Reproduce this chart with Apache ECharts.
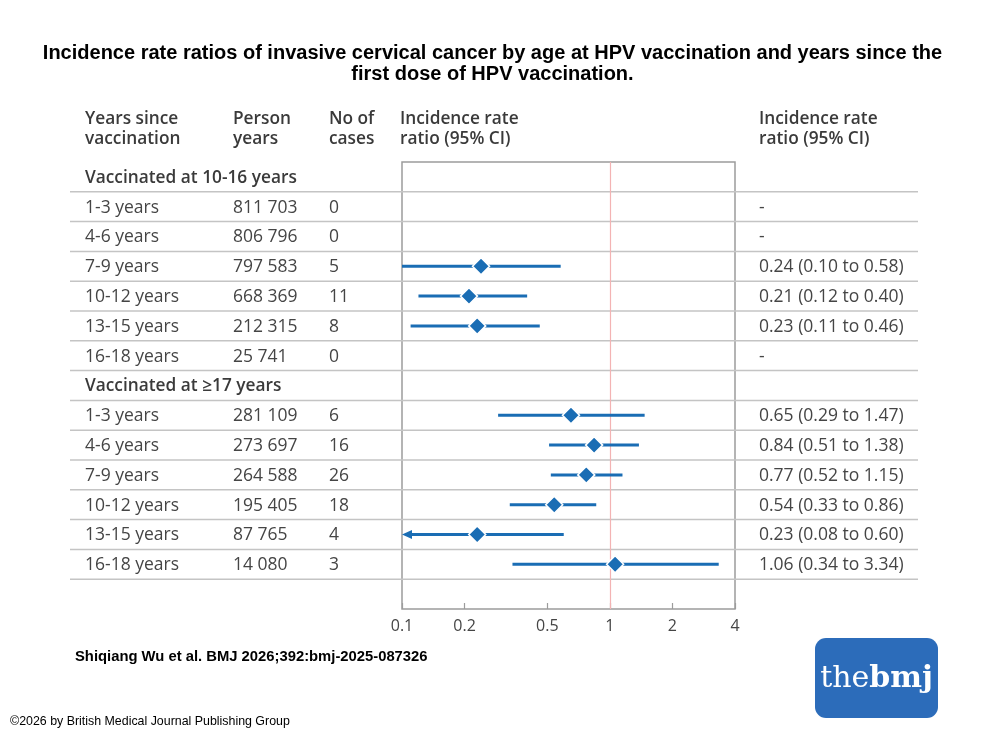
<!DOCTYPE html>
<html><head><meta charset="utf-8">
<script src="https://cdn.jsdelivr.net/npm/echarts@6/dist/echarts.min.js"></script>
<style>html,body{margin:0;padding:0;background:#fff}#c{width:985px;height:740px}</style>
</head><body><div id="c"></div>
<script>
// ---- data ----
const groupLabels = ['Vaccinated at 10-16 years', 'Vaccinated at \u226517 years'];
const periods = ['1-3 years', '4-6 years', '7-9 years', '10-12 years', '13-15 years', '16-18 years'];
const personYears1 = ['811 703', '806 796', '797 583', '668 369', '212 315', '25 741'];
const cases1 = [0, 0, 5, 11, 8, 0];
const irr1 = [null, null, 0.24, 0.21, 0.23, null];
const lo1 = [null, null, 0.10, 0.12, 0.11, null];
const hi1 = [null, null, 0.58, 0.40, 0.46, null];
const personYears2 = ['281 109', '273 697', '264 588', '195 405', '87 765', '14 080'];
const cases2 = [6, 16, 26, 18, 4, 3];
const irr2 = [0.65, 0.84, 0.77, 0.54, 0.23, 1.06];
const lo2 = [0.29, 0.51, 0.52, 0.33, 0.08, 0.34];
const hi2 = [1.47, 1.38, 1.15, 0.86, 0.60, 3.34];
const xTicks = [0.1, 0.2, 0.5, 1, 2, 4];
const xMin = 0.1, xMax = 4;

// ---- build rows ----
const rows = [];
function addGroup(g, py, cs, irr, lo, hi) {
  rows.push({type: 'header', label: groupLabels[g]});
  for (let i = 0; i < periods.length; i++) {
    rows.push({type: 'row', label: periods[i], py: py[i], cases: cs[i], irr: irr[i], lo: lo[i], hi: hi[i]});
  }
}
addGroup(0, personYears1, cases1, irr1, lo1, hi1);
addGroup(1, personYears2, cases2, irr2, lo2, hi2);
rows.push({type: 'blank', label: ''});
const cats = rows.map((r, i) => 'r' + i);

const FONT = '"Open Sans", "Noto Sans", sans-serif';
const ARIAL = '"Liberation Sans", Arial, sans-serif';
const BLUE = '#1a6db4';
const TXT = '#454545';
const HDR = '#3a3a3a';

const tableData = rows.map((r, i) => [1, i]);
const forestData = [];
const pointData = [];
rows.forEach((r, i) => {
  if (r.type === 'row' && r.irr != null) {
    forestData.push([r.irr, i, r.lo, r.hi]);
    pointData.push([r.irr, i]);
  }
});
function fmt(v) { return v.toFixed(2); }

const chart = echarts.init(document.getElementById('c'), null, {renderer: 'canvas'});

const hdrStyle = {fontFamily: FONT, fontSize: 17.3, fontWeight: 600, fill: HDR, lineHeight: 20};
function hdr(x, text) {
  return {type: 'text', left: x, top: 109, style: Object.assign({text: text}, hdrStyle)};
}

chart.setOption({
  animation: false,
  backgroundColor: '#fff',
  grid: {left: 402, right: 250, top: 162, bottom: 131, show: true, borderColor: '#9c9c9c', borderWidth: 1.5, containLabel: false},
  xAxis: {
    type: 'log', logBase: 10, min: xMin, max: xMax,
    axisLine: {show: false},
    splitLine: {show: false},
    axisTick: {show: true, inside: true, length: 6, lineStyle: {color: '#9c9c9c', width: 1.2}, customValues: xTicks},
    axisLabel: {show: true, margin: 9, fontFamily: FONT, fontSize: 16, color: TXT, customValues: xTicks,
      formatter: v => String(+(+v).toPrecision(3))}
  },
  yAxis: {type: 'category', data: cats, inverse: true, show: false, boundaryGap: true},
  graphic: [
    {type: 'text', x: 492.5, y: 43, style: {
      text: 'Incidence rate ratios of invasive cervical cancer by age at HPV vaccination and years since the\nfirst dose of HPV vaccination.',
      align: 'center', verticalAlign: 'top', fontFamily: ARIAL, fontSize: 20, fontWeight: 'bold', fill: '#000', lineHeight: 21}},
    hdr(85, 'Years since\nvaccination'),
    hdr(233, 'Person\nyears'),
    hdr(329, 'No of\ncases'),
    hdr(400, 'Incidence rate\nratio (95% CI)'),
    hdr(759, 'Incidence rate\nratio (95% CI)'),
    {type: 'text', left: 75, top: 649, style: {text: 'Shiqiang Wu et al. BMJ 2026;392:bmj-2025-087326', fontFamily: ARIAL, fontWeight: 'bold', fontSize: 14.8, fill: '#000'}},
    {type: 'text', left: 10, top: 716, style: {text: '\u00a92026 by British Medical Journal Publishing Group', fontFamily: ARIAL, fontSize: 12.4, fill: '#000'}},
    {type: 'group', left: 815, top: 638, children: [
      {type: 'rect', shape: {x: 0, y: 0, width: 123, height: 80, r: 11}, style: {fill: '#2c6cba'}},
      {type: 'text', x: 61.5, y: 41, style: {
        text: '{a|the}{b|bmj}', align: 'center', verticalAlign: 'middle',
        rich: {
          a: {fontFamily: '"DejaVu Serif", "Liberation Serif", serif', fontSize: 30, fontWeight: 'normal', fill: '#fff', color: '#fff'},
          b: {fontFamily: '"DejaVu Serif", "Liberation Serif", serif', fontSize: 30, fontWeight: 'bold', fill: '#fff', color: '#fff'}
        }
      }}
    ]}
  ],
  series: [
    {
      type: 'custom', name: 'table', z: 1, silent: true, clip: false,
      data: tableData,
      encode: {x: 0, y: 1},
      renderItem: function (params, api) {
        const i = api.value(1);
        const r = rows[i];
        const pt = api.coord([1, i]);
        const h = api.size([0, 1])[1];
        const y = pt[1] + 1;
        const children = [];
        if (i < rows.length - 1) {
          children.push({type: 'line', shape: {x1: 70, y1: pt[1] + h / 2, x2: 918, y2: pt[1] + h / 2},
            style: {stroke: '#c4c4c4', lineWidth: 1.5}});
        }
        const base = {fontFamily: FONT, fontSize: 17.5, fill: TXT, verticalAlign: 'middle', align: 'left'};
        if (r.type === 'header') {
          children.push({type: 'text', style: Object.assign({}, base, {text: r.label, x: 85, y: y, fontSize: 17.3, fontWeight: 600, fill: HDR})});
        } else if (r.type === 'row') {
          children.push({type: 'text', style: Object.assign({}, base, {text: r.label, x: 85, y: y})});
          children.push({type: 'text', style: Object.assign({}, base, {text: r.py, x: 233, y: y})});
          children.push({type: 'text', style: Object.assign({}, base, {text: String(r.cases), x: 329, y: y})});
          const ci = r.irr == null ? '-' : fmt(r.irr) + ' (' + fmt(r.lo) + ' to ' + fmt(r.hi) + ')';
          children.push({type: 'text', style: Object.assign({}, base, {text: ci, x: 759, y: y})});
        }
        return {type: 'group', children: children};
      }
    },
    {
      type: 'custom', name: 'ci', z: 3, silent: true, clip: false,
      data: forestData,
      encode: {x: 0, y: 1},
      renderItem: function (params, api) {
        const row = api.value(1);
        const lo = api.value(2), hi = api.value(3);
        const clipped = lo < xMin;
        const pLo = api.coord([Math.max(lo, xMin), row]);
        const pHi = api.coord([Math.min(hi, xMax), row]);
        const children = [
          {type: 'line', shape: {x1: pLo[0] + (clipped ? 6 : 0), y1: pLo[1], x2: pHi[0], y2: pHi[1]}, style: {stroke: BLUE, lineWidth: 3}}
        ];
        if (clipped) {
          children.push({type: 'polygon', shape: {points: [[pLo[0], pLo[1]], [pLo[0] + 10, pLo[1] - 4.5], [pLo[0] + 10, pLo[1] + 4.5]]}, style: {fill: BLUE}});
        }
        return {type: 'group', children: children};
      }
    },
    {
      type: 'scatter', name: 'irr', z: 4, silent: true,
      data: pointData,
      symbol: 'diamond', symbolSize: [17, 17],
      itemStyle: {color: BLUE, borderColor: '#fff', borderWidth: 1.5, opacity: 1},
      markLine: {
        silent: true, symbol: ['none', 'none'], label: {show: false},
        lineStyle: {color: '#f3b3b3', width: 1.2, type: 'solid'},
        data: [{xAxis: 1}], z: 2
      }
    }
  ]
});
</script></body></html>
